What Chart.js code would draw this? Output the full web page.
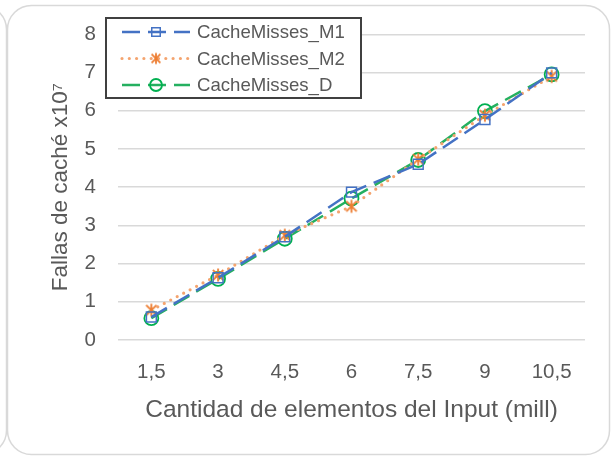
<!DOCTYPE html>
<html>
<head>
<meta charset="utf-8">
<script src="https://cdn.jsdelivr.net/npm/chart.js@4/dist/chart.umd.min.js"></script>
<style>
  html, body { margin: 0; padding: 0; background: #ffffff; }
  #wrap { position: relative; width: 611px; height: 457px; }
</style>
</head>
<body>
<div id="wrap"><canvas id="chart" width="611" height="457"></canvas></div>
<script>
// Input size (millions of elements) and cache misses (x10^7) per variant
const categories = ['1,5', '3', '4,5', '6', '7,5', '9', '10,5'];
const missesM1 = [0.60, 1.63, 2.70, 3.87, 4.60, 5.77, 6.99];
const missesM2 = [0.78, 1.70, 2.74, 3.50, 4.73, 5.88, 6.90];
const missesD  = [0.57, 1.60, 2.65, 3.70, 4.71, 5.99, 6.95];
const seriesNames = ['CacheMisses_M1', 'CacheMisses_M2', 'CacheMisses_D'];
const yTicks = [0, 1, 2, 3, 4, 5, 6, 7, 8];

const FONT = "'Liberation Sans', Arial, sans-serif";
const TEXT = '#595959';

// Asterisk marker: an X crossed by a vertical stroke
function makeAsterisk(size, color, width) {
  const c = document.createElement('canvas');
  c.width = size; c.height = size;
  const g = c.getContext('2d');
  const m = size / 2, r = size / 2 - 1.5, d = r * 0.8;
  g.strokeStyle = color;
  g.lineWidth = width;
  g.lineCap = 'butt';
  g.beginPath();
  g.moveTo(m, m - r); g.lineTo(m, m + r);
  g.moveTo(m - d, m - d); g.lineTo(m + d, m + d);
  g.moveTo(m + d, m - d); g.lineTo(m - d, m + d);
  g.stroke();
  return c;
}
const starMarker = makeAsterisk(16, '#ED7D31', 1.8);
const starMarkerSmall = makeAsterisk(14, '#ED7D31', 1.8);

// Rounded outer frames (this panel plus the edge of the neighbouring one)
const framePlugin = {
  id: 'frame',
  beforeDraw(chart) {
    const ctx = chart.ctx;
    ctx.save();
    ctx.fillStyle = '#ffffff';
    ctx.fillRect(0, 0, chart.width, chart.height);
    ctx.strokeStyle = '#D9D9D9';
    ctx.lineWidth = 1.5;
    ctx.beginPath();
    ctx.roundRect(7.5, 5.5, 602, 449, 24);
    ctx.stroke();
    ctx.beginPath();
    ctx.roundRect(-600, 5.5, 606.5, 449, 24);
    ctx.stroke();
    ctx.restore();
  }
};

// Boxed legend drawn over the upper-left of the plot
const boxLegend = {
  id: 'boxLegend',
  afterDraw(chart) {
    const ctx = chart.ctx;
    ctx.save();
    ctx.fillStyle = '#ffffff';
    ctx.fillRect(106, 18, 255, 80);
    ctx.strokeStyle = '#404040';
    ctx.lineWidth = 2;
    ctx.strokeRect(106, 18, 255, 80);
    chart.data.datasets.forEach((ds, i) => {
      const y = 32 + i * 26.5;
      ctx.strokeStyle = ds.borderColor;
      ctx.lineWidth = ds.borderWidth;
      ctx.lineCap = ds.borderCapStyle || 'butt';
      ctx.setLineDash(ds.borderDash || []);
      ctx.beginPath();
      ctx.moveTo(122, y);
      ctx.lineTo(190, y);
      ctx.stroke();
      ctx.setLineDash([]);
      ctx.lineCap = 'butt';
      ctx.strokeStyle = ds.pointBorderColor;
      ctx.fillStyle = 'rgba(0,0,0,0)';
      ctx.lineWidth = ds.pointBorderWidth;
      const style = ds.pointStyle === starMarker ? starMarkerSmall : ds.pointStyle;
      Chart.helpers.drawPoint(ctx, {
        pointStyle: style, radius: 6, borderWidth: ds.pointBorderWidth, rotation: 0
      }, 156, y);
      ctx.fillStyle = TEXT;
      ctx.font = '18.6px ' + FONT;
      ctx.textBaseline = 'middle';
      ctx.textAlign = 'left';
      ctx.fillText(ds.label, 197, y + 1);
    });
    ctx.restore();
  }
};

const chart = new Chart(document.getElementById('chart'), {
  type: 'line',
  data: {
    labels: categories,
    datasets: [
      {
        label: seriesNames[0], data: missesM1,
        borderColor: '#4472C4', borderWidth: 2.5, borderDash: [18, 8],
        pointStyle: 'rect', pointRadius: 7, pointBorderWidth: 1.5,
        pointBorderColor: '#4472C4', pointBackgroundColor: 'rgba(0,0,0,0)',
        tension: 0
      },
      {
        label: seriesNames[1], data: missesM2,
        borderColor: '#F4A46F', borderWidth: 3.2, borderDash: [0, 7.3], borderCapStyle: 'round',
        pointStyle: starMarker, pointRadius: 7, pointBorderWidth: 1.8,
        pointBorderColor: '#ED7D31', pointBackgroundColor: 'rgba(0,0,0,0)',
        tension: 0
      },
      {
        label: seriesNames[2], data: missesD,
        borderColor: '#25B060', borderWidth: 2.5, borderDash: [18, 8],
        pointStyle: 'circle', pointRadius: 7, pointBorderWidth: 1.8,
        pointBorderColor: '#00B050', pointBackgroundColor: 'rgba(0,0,0,0)',
        tension: 0
      }
    ]
  },
  options: {
    responsive: false,
    animation: false,
    devicePixelRatio: 1,
    layout: { padding: { top: 34, right: 26, bottom: 0, left: 0 } },
    plugins: { legend: { display: false }, tooltip: { enabled: false } },
    scales: {
      x: {
        offset: true,
        grid: { display: false },
        border: { display: false },
        ticks: { color: TEXT, font: { family: FONT, size: 20.5 }, padding: 12, maxRotation: 0 },
        title: {
          display: true, text: 'Cantidad de elementos del Input (mill)',
          color: TEXT, font: { family: FONT, size: 24.5 }, padding: { top: 8, bottom: 32 }
        },
        afterFit(scale) { scale.height = 117; }
      },
      y: {
        min: 0, max: 8,
        afterBuildTicks(scale) { scale.ticks = yTicks.map(v => ({ value: v })); },
        grid: { color: '#D9D9D9', lineWidth: 1.5, drawTicks: false },
        border: { display: false },
        ticks: { color: TEXT, font: { family: FONT, size: 20.5 }, padding: 22 },
        title: {
          display: true, text: 'Fallas de caché x10⁷',
          color: TEXT, font: { family: FONT, size: 22.5 }, padding: { top: 47, bottom: 0 }
        },
        afterFit(scale) { scale.width = 118; }
      }
    }
  },
  plugins: [framePlugin, boxLegend]
});
</script>
</body>
</html>
